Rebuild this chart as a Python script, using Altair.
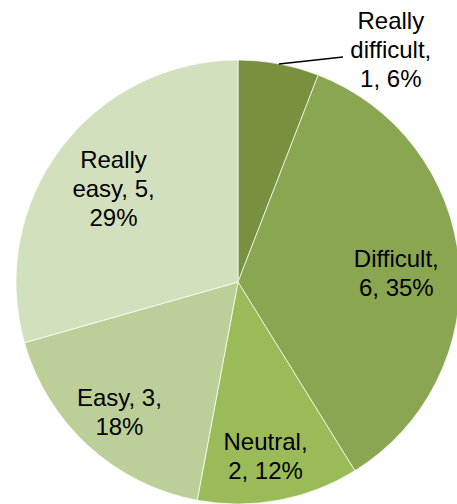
import altair as alt
import pandas as pd

categories = ["Really difficult", "Difficult", "Neutral", "Easy", "Really easy"]
counts = [1, 6, 2, 3, 5]
percents = [6, 35, 12, 18, 29]
labels = [
    "Really\ndifficult,\n1, 6%",
    "Difficult,\n6, 35%",
    "Neutral,\n2, 12%",
    "Easy, 3,\n18%",
    "Really\neasy, 5,\n29%",
]
colors = ["#77913F", "#8AA650", "#9BBB59", "#BCCF98", "#D3E0BE"]

df = pd.DataFrame({
    "cat": categories,
    "count": counts,
    "pct": percents,
    "label": labels,
    "idx": list(range(len(categories))),
})

CX, CY, R = 238, 282, 222
FONT = "Liberation Sans"

base = alt.Chart(df)

theta = alt.Theta("count:Q", stack=True)
order = alt.Order("idx:Q", sort="ascending")

pie = base.mark_arc(stroke="white", strokeWidth=0.7).encode(
    theta=theta,
    order=order,
    color=alt.Color("cat:N", scale=alt.Scale(domain=categories, range=colors), legend=None),
    x=alt.value(CX),
    y=alt.value(CY),
    radius=alt.value(R),
)

# label placement per slice: (radius, dx, dy)
placement = {
    "Really difficult": (222, 112, -42),
    "Difficult": (159, 0, -7),
    "Neutral": (177, -5, -13),
    "Easy": (176, 0, -13),
    "Really easy": (156, 0, -27),
}

text_layers = []
for cat in categories:
    r, dx, dy = placement[cat]
    t = base.mark_text(
        radius=r, dx=dx, dy=dy, font=FONT, fontSize=24, lineHeight=29,
        lineBreak="\n", align="center", baseline="middle", color="black",
    ).encode(
        theta=theta,
        order=order,
        detail="cat:N",
        x=alt.value(CX),
        y=alt.value(CY),
        text=alt.condition(f"datum.cat === '{cat}'", alt.Text("label:N"), alt.value("")),
    )
    text_layers.append(t)

leader = base.transform_filter("datum.idx === 0").mark_rule(color="black", strokeWidth=1.3).encode(
    x=alt.value(279), y=alt.value(64), x2=alt.value(343), y2=alt.value(57),
)

chart = alt.layer(pie, leader, *text_layers).properties(
    width=457, height=504, padding=0, autosize=alt.AutoSizeParams(type="none"),
    background="white",
).configure_view(stroke=None)

chart.save("out.html", embed_options={"renderer": "svg", "actions": False})
